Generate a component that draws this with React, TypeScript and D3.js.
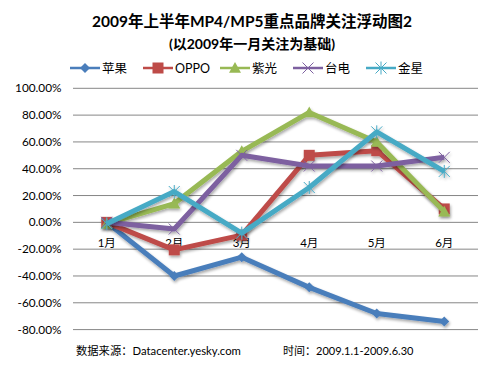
import React from "react";
import * as d3 from "d3";

const categories = ["1月", "2月", "3月", "4月", "5月", "6月"];
const seriesNames = ["苹果", "OPPO", "紫光", "台电", "金星"];
const apple = [0, -40, -26, -48.5, -68, -74];
const oppo = [0, -20.5, -9.5, 50, 53.5, 10];
const ziguang = [-1, 14, 53, 82, 60, 8];
const taidian = [0, -5, 50, 42, 42, 48.5];
const jinxing = [-1, 23, -8, 26, 67.5, 38];
const yTicks = [-80, -60, -40, -20, 0, 20, 40, 60, 80, 100];
const colors = ["#4A7EBB", "#BE4B48", "#98B954", "#7D60A0", "#46AAC5"];
const markers = ["diamond", "square", "triangle", "x", "star"];

const FONT = "Lato, 'Noto Sans CJK SC', sans-serif";

function Marker({ type, x, y, color }: { type: string; x: number; y: number; color: string }) {
  if (type === "diamond") {
    const s = 5;
    return <path d={`M${x},${y - s}L${x + s},${y}L${x},${y + s}L${x - s},${y}Z`} fill={color} />;
  }
  if (type === "square") {
    const s = 5.5;
    return <rect x={x - s} y={y - s} width={2 * s} height={2 * s} fill={color} />;
  }
  if (type === "triangle") {
    const s = 6;
    return <path d={`M${x},${y - s}L${x + s},${y + s * 0.8}L${x - s},${y + s * 0.8}Z`} fill={color} />;
  }
  if (type === "x") {
    const s = 5.5;
    return (
      <path d={`M${x - s},${y - s}L${x + s},${y + s}M${x + s},${y - s}L${x - s},${y + s}`} stroke={color} strokeWidth={1} fill="none" />
    );
  }
  const s = 5.5;
  return (
    <path
      d={`M${x - s},${y - s}L${x + s},${y + s}M${x + s},${y - s}L${x - s},${y + s}M${x},${y - s - 1}L${x},${y + s + 1}`}
      stroke={color}
      strokeWidth={1}
      fill="none"
    />
  );
}

export default function App() {
  const W = 500, H = 375;
  const left = 73, right = 478;
  const y = d3.scaleLinear().domain([-80, 100]).range([329.6, 88.3]);
  const x = d3.scaleBand<string>().domain(categories).range([left, right]);
  const cx = (c: string) => (x(c) as number) + x.bandwidth() / 2;
  const data = [apple, oppo, ziguang, taidian, jinxing];
  const line = d3
    .line<number>()
    .x((_, i) => cx(categories[i]))
    .y((d) => y(d));

  const legendX = [70, 143, 220, 293, 366];

  return (
    <svg width={W} height={H} style={{ position: "absolute", left: 0, top: 0 }} fontFamily={FONT}>
      <defs>
        <filter id="sh" x="-20%" y="-20%" width="140%" height="140%">
          <feGaussianBlur in="SourceAlpha" stdDeviation="1.5" />
          <feOffset dx="1" dy="2" result="b" />
          <feComponentTransfer>
            <feFuncA type="linear" slope="0.35" />
          </feComponentTransfer>
          <feMerge>
            <feMergeNode />
            <feMergeNode in="SourceGraphic" />
          </feMerge>
        </filter>
      </defs>
      <rect width={W} height={H} fill="#fff" />
      <text x={252} y={27} textAnchor="middle" fontSize={15.5} fontWeight="bold" fill="#000">
        2009年上半年MP4/MP5重点品牌关注浮动图2
      </text>
      <text x={252} y={49} textAnchor="middle" fontSize={14} fontWeight="bold" fill="#000">
        (以2009年一月关注为基础)
      </text>
      {seriesNames.map((n, i) => (
        <g key={n}>
          <line x1={legendX[i]} x2={legendX[i] + 30} y1={68} y2={68} stroke={colors[i]} strokeWidth={2.5} />
          <Marker type={markers[i]} x={legendX[i] + 15} y={68} color={colors[i]} />
          <text x={legendX[i] + 32} y={72.5} fontSize={12.5} fill="#000">
            {n}
          </text>
        </g>
      ))}
      {yTicks.map((t) => (
        <g key={t}>
          <line x1={left} x2={right} y1={y(t)} y2={y(t)} stroke="#868686" strokeWidth={1} />
          <text x={61.5} y={y(t) + 4} textAnchor="end" fontSize={11.8} fill="#000">
            {t.toFixed(2) + "%"}
          </text>
        </g>
      ))}
      {categories.map((c) => (
        <text key={c} x={cx(c)} y={247} textAnchor="middle" fontSize={11.5} fill="#000">
          {c}
        </text>
      ))}
      {data.map((d, i) => (
        <g key={i} filter="url(#sh)">
          <path d={line(d) as string} fill="none" stroke={colors[i]} strokeWidth={5} strokeLinejoin="round" />
          {d.map((v, j) => (
            <Marker key={j} type={markers[i]} x={cx(categories[j])} y={y(v)} color={colors[i]} />
          ))}
        </g>
      ))}
      <text x={76} y={355} fontSize={11.3} fill="#000">
        数据来源：Datacenter.yesky.com
      </text>
      <text x={283} y={355} fontSize={11} fill="#000">
        时间：2009.1.1-2009.6.30
      </text>
    </svg>
  );
}
